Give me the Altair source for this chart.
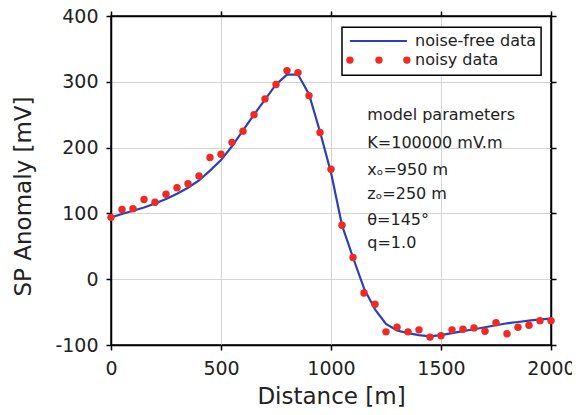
import altair as alt
import pandas as pd

# ---- data ----
dist = list(range(0, 2001, 50))
noise_free = [94, 99, 104, 109, 115, 122, 130, 139, 150, 165, 181, 202, 226, 250, 273,
              296, 311, 311, 281, 224, 162, 82, 33, -14, -46, -68, -78, -82, -85, -87,
              -85, -82, -79, -76, -73, -70, -67, -65, -63, -61, -60]
noisy = [94, 106, 107, 121, 117, 129, 139, 145, 157, 185, 190, 208, 225, 250, 274,
         296, 317, 314, 279, 223, 167, 82, 33, -21, -38, -80, -73, -80, -77, -88,
         -86, -77, -76, -74, -79, -66, -83, -73, -70, -63, -63]

ann_lines = ["model parameters", "K=100000 mV.m", "x\u2092=950 m", "z\u2092=250 m",
             "\u03b8=145\u00b0", "q=1.0"]
ann_y = [249, 207, 166, 129, 90, 55]
ann_x = 1165

legend_labels = ["noise-free data", "noisy data"]
x_ticks = [0, 500, 1000, 1500, 2000]
y_ticks = [-100, 0, 100, 200, 300, 400]

FONT = "DejaVu Sans"
BLUE = "#2b3fbd"
RED = "#ee2a22"

df = pd.DataFrame({"d": dist, "clean": noise_free, "noisy": noisy})
xs = alt.Scale(domain=[0, 2000], nice=False, zero=False)
ys = alt.Scale(domain=[-100, 400], nice=False, zero=False)


def X(f):
    return alt.X(f, scale=xs, axis=None)


def Y(f):
    return alt.Y(f, scale=ys, axis=None)


base = alt.Chart(df)
line = base.mark_line(color=BLUE, strokeWidth=2.2).encode(
    x=alt.X("d:Q", scale=xs, axis=alt.Axis(values=x_ticks, title="Distance [m]",
                                           labelExpr="'' + datum.value", labelFlush=False)),
    y=alt.Y("clean:Q", scale=ys, axis=alt.Axis(values=y_ticks, title="SP Anomaly [mV]",
                                               labelExpr="'' + datum.value", titleY=180)),
)
pts = base.mark_circle(color=RED, size=55, opacity=1).encode(x=X("d:Q"), y=Y("noisy:Q"))

# frame axes (top/right ticks)
frame = base.mark_point(opacity=0).encode(
    x=alt.X("d:Q", scale=xs, axis=alt.Axis(orient="top", values=x_ticks, labels=False,
                                           title=None, grid=False)),
    y=alt.Y("clean:Q", scale=ys, axis=alt.Axis(orient="right", values=y_ticks, labels=False,
                                               title=None, grid=False)),
)

ann_df = pd.DataFrame({"t": ann_lines, "y": ann_y, "x": [ann_x] * len(ann_lines)})
ann = alt.Chart(ann_df).mark_text(align="left", baseline="middle", font=FONT, fontSize=16,
                                  color="#222").encode(x=X("x:Q"), y=Y("y:Q"), text="t:N")

# legend box (in data coordinates)
box_df = pd.DataFrame({"x": [1050], "x2": [1955], "y": [310], "y2": [383]})
box = alt.Chart(box_df).mark_rect(fill="white", stroke="black", strokeWidth=1.5).encode(
    x=X("x:Q"), x2="x2:Q", y=Y("y:Q"), y2="y2:Q")
leg_line_df = pd.DataFrame({"x": [1086, 1345], "y": [362, 362]})
leg_line = alt.Chart(leg_line_df).mark_line(color=BLUE, strokeWidth=2.2).encode(
    x=X("x:Q"), y=Y("y:Q"))
leg_dot_df = pd.DataFrame({"x": [1086, 1218, 1345], "y": [333, 333, 333]})
leg_dots = alt.Chart(leg_dot_df).mark_circle(color=RED, size=55, opacity=1).encode(
    x=X("x:Q"), y=Y("y:Q"))
leg_txt_df = pd.DataFrame({"t": legend_labels, "x": [1382, 1382], "y": [362, 333]})
leg_txt = alt.Chart(leg_txt_df).mark_text(align="left", baseline="middle", font=FONT,
                                          fontSize=16, color="#222").encode(
    x=X("x:Q"), y=Y("y:Q"), text="t:N")

chart = alt.layer(line, frame, pts, ann, box, leg_line, leg_dots, leg_txt).resolve_axis(
    x="independent", y="independent"
).properties(
    width=440, height=329,
    autosize=alt.AutoSizeParams(type="none"),
    padding={"left": 103, "top": 8, "right": 21, "bottom": 62},
).configure_view(stroke="black", strokeWidth=1.5).configure_axis(
    labelFont=FONT, titleFont=FONT, labelFontSize=19, titleFontSize=23,
    labelColor="#222", titleColor="#222", titleFontWeight="normal",
    domainColor="black", domainWidth=1.5, tickColor="black", tickWidth=1.5, tickSize=5,
    gridColor="#d4d4d4", gridWidth=1, labelPadding=8,
).configure_axisX(titlePadding=7, labelPadding=9).configure_axisY(titlePadding=19)

chart.save("out.html", embed_options={"renderer": "svg", "actions": False})
